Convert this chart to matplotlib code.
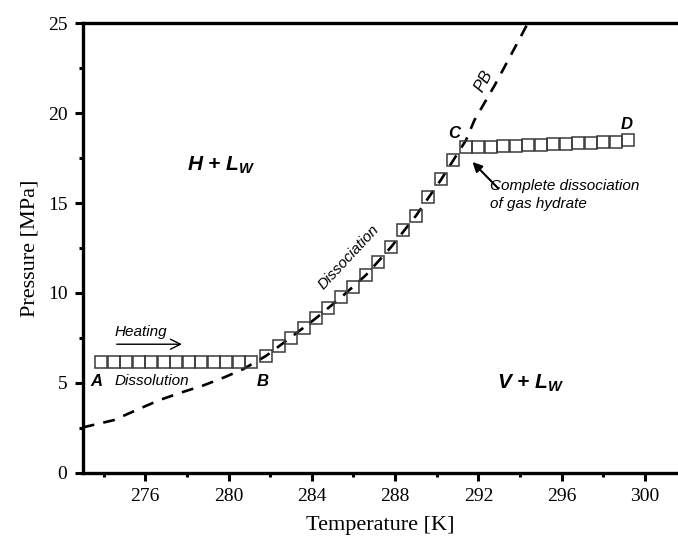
import numpy as np
import matplotlib
matplotlib.use("Agg")
import matplotlib.pyplot as plt
from matplotlib.ticker import MultipleLocator

# heating at constant volume: dissolution, dissociation, gas phase
dissolution_T = [273.9, 274.5, 275.1, 275.7, 276.3, 276.9, 277.5, 278.1, 278.7,
                 279.3, 279.9, 280.5, 281.1]
dissolution_P = [6.15, 6.15, 6.15, 6.15, 6.15, 6.15, 6.15, 6.15, 6.15,
                 6.15, 6.15, 6.15, 6.15]

dissociation_T = [281.8, 282.4, 283.0, 283.6, 284.2, 284.8, 285.4, 286.0,
                  286.6, 287.2, 287.8, 288.4, 289.0, 289.6, 290.2, 290.8]
dissociation_P = [6.50, 7.03, 7.49, 8.03, 8.59, 9.14, 9.76, 10.34,
                  11.00, 11.74, 12.57, 13.50, 14.31, 15.32, 16.33, 17.39]

gas_T = [291.4, 292.0, 292.6, 293.2, 293.8, 294.4, 295.0, 295.6, 296.2,
         296.8, 297.4, 298.0, 298.6, 299.2]
gas_P = [18.11, 18.13, 18.15, 18.17, 18.20, 18.22, 18.25, 18.27, 18.30,
         18.32, 18.35, 18.38, 18.42, 18.50]

# phase boundary (PB)
pb_T = [273.0, 274.5, 275.7, 276.7, 277.8, 278.8, 279.8, 280.7, 281.8, 282.9,
        284.2, 285.4, 286.6, 287.8, 289.0, 290.2, 290.8, 291.4, 291.8, 292.3,
        292.8, 293.4, 294.0, 294.5]
pb_P = [2.52, 2.93, 3.55, 4.05, 4.49, 4.86, 5.31, 5.76, 6.50, 7.45,
        8.60, 9.75, 11.00, 12.55, 14.30, 16.30, 17.40, 18.50, 19.60, 20.60,
        21.60, 22.90, 24.20, 25.30]

plt.rcParams['mathtext.fontset'] = 'custom'
plt.rcParams['mathtext.it'] = 'Liberation Sans:bold:italic'
plt.rcParams['mathtext.rm'] = 'Liberation Sans:bold'

fig = plt.figure(figsize=(6.78, 5.44), dpi=100)
ax = fig.add_axes([0.122, 0.131, 0.878, 0.826])

ax.plot(pb_T, pb_P, color='black', lw=1.9, dashes=(4.5, 3.5), zorder=2)
mk = dict(ls='none', marker='s', ms=9, mfc='none', mec='#3a3a3a', mew=1.1, zorder=3)
ax.plot(dissolution_T, dissolution_P, **mk)
ax.plot(dissociation_T, dissociation_P, **mk)
ax.plot(gas_T, gas_P, **mk)

ax.set_xlim(273, 301.58)
ax.set_ylim(0, 25)
ax.xaxis.set_major_locator(MultipleLocator(4))
ax.xaxis.set_minor_locator(MultipleLocator(2))
ax.yaxis.set_major_locator(MultipleLocator(5))
ax.yaxis.set_minor_locator(MultipleLocator(2.5))
ax.tick_params(which='major', length=6, width=2.2, direction='out',
               labelsize=14, pad=5)
ax.tick_params(which='minor', length=3, width=2.2, direction='out')
for lab in ax.get_xticklabels() + ax.get_yticklabels():
    lab.set_family('Liberation Serif')
for side in ['left', 'bottom', 'top']:
    ax.spines[side].set_linewidth(2.4)
ax.spines['right'].set_visible(False)

ax.set_xlabel('Temperature [K]', family='Liberation Serif', fontsize=16, labelpad=8)
ax.set_ylabel('Pressure [MPa]', family='Liberation Serif', fontsize=16, labelpad=6)

sans = 'Liberation Sans'
lbl = dict(family=sans, style='italic', weight='bold', fontsize=12)
ax.text(273.35, 5.05, 'A', va='center', ha='left', **lbl)
ax.text(281.35, 5.1, 'B', va='center', ha='left', **lbl)
ax.text(290.55, 18.85, 'C', va='center', ha='left', **lbl)
ax.text(298.85, 19.35, 'D', va='center', ha='left', **lbl)

ax.text(274.55, 5.1, 'Dissolution', family=sans, style='italic', fontsize=11,
        va='center', ha='left')
ax.text(274.55, 7.85, 'Heating', family=sans, style='italic', fontsize=11,
        va='center', ha='left')
ax.annotate('', xy=(277.9, 7.15), xytext=(274.5, 7.15),
            arrowprops=dict(arrowstyle='->', lw=1.0, color='black', mutation_scale=18))
ax.text(285.75, 12.0, 'Dissociation', family=sans, style='italic', fontsize=11,
        rotation=47, va='center', ha='center')
ax.text(292.25, 21.8, 'PB', family=sans, style='italic', fontsize=12,
        rotation=62, va='center', ha='center')

ax.text(292.55, 16.35, 'Complete dissociation\nof gas hydrate', family=sans,
        style='italic', fontsize=11, va='top', ha='left', linespacing=1.35)
ax.annotate('', xy=(291.62, 17.4), xytext=(293.05, 15.7),
            arrowprops=dict(arrowstyle='-|>', lw=1.5, color='black', mutation_scale=14))

big = dict(family=sans, style='italic', weight='bold', fontsize=15)
ax.text(278.0, 17.1, r'H + L$_W$', va='center', ha='left', **big)
ax.text(292.9, 5.0, r'V + L$_W$', va='center', ha='left', **big)

fig.savefig('out.png', dpi=100)
